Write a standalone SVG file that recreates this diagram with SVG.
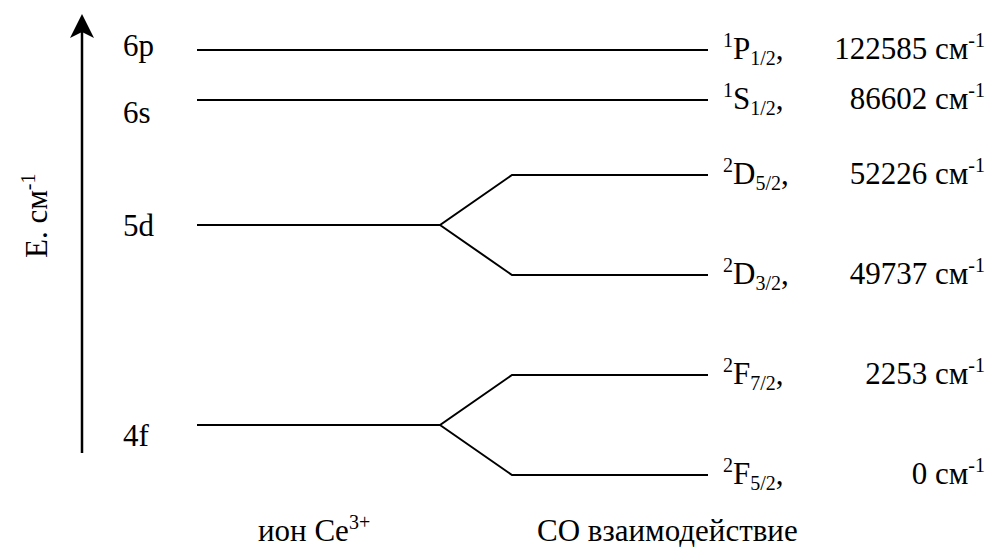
<svg xmlns="http://www.w3.org/2000/svg" width="989" height="547" viewBox="0 0 989 547">
<style>
text{font-family:"Liberation Serif","Times New Roman",serif;font-size:31px;fill:#000}
.sup{font-size:20px}
.lv{fill:none;stroke:#000;stroke-width:2}
.val{text-anchor:end}
</style>
<rect width="989" height="547" fill="#fff"/>
<g id="axis">
<line x1="82" y1="453" x2="82" y2="30" stroke="#000" stroke-width="2.5"/>
<path d="M82,14 L94,38 L82,32 L70,38 Z" fill="#000"/>
<text transform="translate(47,258) rotate(-90)">E. см<tspan class="sup" dy="-12">-1</tspan></text>
</g>
<g id="connectors">
<path class="lv" d="M197,50 H708"/>
<path class="lv" d="M197,100 H708"/>
<path class="lv" d="M197,225 H440 L512,175 H708 M440,225 L512,275 H708"/>
<path class="lv" d="M197,425 H440 L512,375 H708 M440,425 L512,475 H708"/>
</g>
<g id="n6p"><text x="123" y="56">6p</text>
<text x="723" y="59"><tspan class="sup" dy="-12">1</tspan><tspan dy="12">P</tspan><tspan class="sup" dy="6">1/2</tspan><tspan dy="-6">,</tspan></text>
<text class="val" x="985" y="59">122585 см<tspan class="sup" dy="-12">-1</tspan></text></g>
<g id="n6s"><text x="123" y="123">6s</text>
<text x="723" y="109"><tspan class="sup" dy="-12">1</tspan><tspan dy="12">S</tspan><tspan class="sup" dy="6">1/2</tspan><tspan dy="-6">,</tspan></text>
<text class="val" x="985" y="109">86602 см<tspan class="sup" dy="-12">-1</tspan></text></g>
<g id="n5d"><text x="123" y="236">5d</text></g>
<g id="nD52"><text x="723" y="184"><tspan class="sup" dy="-12">2</tspan><tspan dy="12">D</tspan><tspan class="sup" dy="6">5/2</tspan><tspan dy="-6">,</tspan></text>
<text class="val" x="985" y="184">52226 см<tspan class="sup" dy="-12">-1</tspan></text></g>
<g id="nD32"><text x="723" y="284"><tspan class="sup" dy="-12">2</tspan><tspan dy="12">D</tspan><tspan class="sup" dy="6">3/2</tspan><tspan dy="-6">,</tspan></text>
<text class="val" x="985" y="284">49737 см<tspan class="sup" dy="-12">-1</tspan></text></g>
<g id="n4f"><text x="123" y="446">4f</text></g>
<g id="nF72"><text x="723" y="384"><tspan class="sup" dy="-12">2</tspan><tspan dy="12">F</tspan><tspan class="sup" dy="6">7/2</tspan><tspan dy="-6">,</tspan></text>
<text class="val" x="985" y="384">2253 см<tspan class="sup" dy="-12">-1</tspan></text></g>
<g id="nF52"><text x="723" y="484"><tspan class="sup" dy="-12">2</tspan><tspan dy="12">F</tspan><tspan class="sup" dy="6">5/2</tspan><tspan dy="-6">,</tspan></text>
<text class="val" x="985" y="484">0 см<tspan class="sup" dy="-12">-1</tspan></text></g>
<g id="labels">
<text x="258" y="541">ион Ce<tspan class="sup" dy="-12">3+</tspan></text>
<text x="537" y="541" font-size="30">CO взаимодействие</text>
</g>
</svg>
